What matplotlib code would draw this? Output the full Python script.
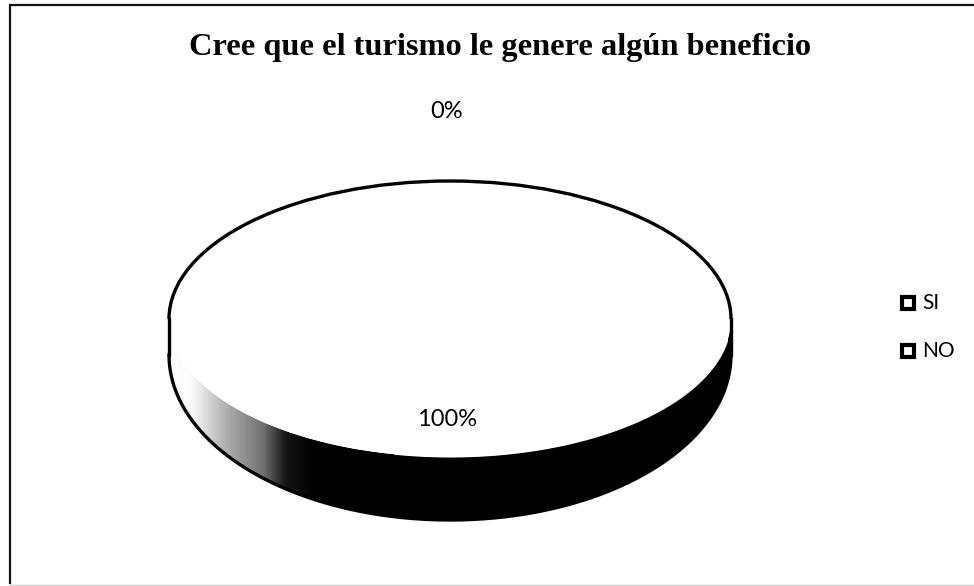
import numpy as np
import matplotlib
matplotlib.use('Agg')
import matplotlib.pyplot as plt
from matplotlib.patches import Arc, Rectangle, Polygon
from matplotlib.colors import LinearSegmentedColormap

title = 'Cree que el turismo le genere algún beneficio'
categorias = ['SI', 'NO']
valores = [100, 0]

W, H = 974, 586
fig = plt.figure(figsize=(W / 100, H / 100), dpi=100, facecolor='white')

# capa de fondo en pixeles, para marco y textos
bg = fig.add_axes([0, 0, 1, 1])
bg.set_xlim(0, W)
bg.set_ylim(H, 0)
bg.axis('off')
bg.plot([10, 10, 974], [583, 5, 5], color='#111111', lw=1.6, solid_joinstyle='miter')
bg.plot([10, 974], [585, 585], color='#d0d0d0', lw=1.0)

bg.text(500.5, 55, title, family='Liberation Serif', weight='bold', fontsize=23.3,
        ha='center', va='baseline', color='black')
bg.text(447, 112, f'{valores[1]}%', family='Lato', fontsize=17, ha='center', va='center')

# pastel aplanado, el eje incluye el lateral
cx, cy, a, b = 450, 319, 281, 138
base_cy, base_b = 355, 165
d0 = (base_cy - cy) / b
bb = base_b / b
yfondo = -d0 - bb
alto = (1 - yfondo) * b
ax = fig.add_axes([(cx - a) / W, 1 - (cy - b + alto) / H, 2 * a / W, alto / H])
ax.pie(valores, colors=['white', 'black'], startangle=90, radius=1,
       wedgeprops={'linewidth': 0, 'zorder': 3})
ax.set_aspect('auto')

# lateral
t = np.linspace(np.pi, 2 * np.pi, 300)
xs = np.cos(t)
arriba = np.sin(t)
abajo = bb * np.sin(t) - d0
verts = np.r_[[[-1, 0]], np.c_[xs, abajo], [[1, 0]], np.c_[xs[::-1], arriba[::-1]]]
rim = Polygon(verts, closed=True, facecolor='none', edgecolor='none')
ax.add_patch(rim)
cmap = LinearSegmentedColormap.from_list('lat', [(0, 'white'), (0.1, '#fafafa'), (0.25, '#b0b0b0'),
                                                 (0.42, '#707070'), (0.52, '#141414'), (0.65, 'black'), (1, 'black')])
grad = np.linspace(0, 1, 300).reshape(1, -1)
im = ax.imshow(grad, extent=(-1, -0.2, yfondo, 0.2), cmap=cmap, aspect='auto', zorder=1)
im.set_clip_path(rim)
mask = xs >= -0.3
ax.fill_between(xs[mask], abajo[mask], arriba[mask], color='black', lw=0, zorder=2)
ax.fill_between([0.99, 1], [-d0, -d0], [0, 0], color='black', lw=0, zorder=1)
ax.set_xlim(-1, 1)
ax.set_ylim(yfondo, 1)

# contornos
ax.plot(xs, abajo, color='black', lw=2.4, zorder=4, clip_on=False)
ax.plot([-1, -1], [0, -d0], color='black', lw=2.4, zorder=4, clip_on=False)
ax.plot([1, 1], [0, -d0], color='black', lw=2.4, zorder=4, clip_on=False)
arc = Arc((0, 0), 2, 2, theta1=0, theta2=180, color='black', lw=2.4, zorder=4, clip_on=False)
ax.add_patch(arc)
ax.axis('off')

bg.set_zorder(5)
bg.patch.set_alpha(0)
bg.text(447.5, 419, f'{valores[0]}%', family='Lato', fontsize=17, ha='center', va='center')

# leyenda
for y, cat in zip([303, 351], categorias):
    bg.add_patch(Rectangle((902, y - 6), 12, 12, facecolor='white', edgecolor='black', lw=3))
    bg.text(922, y, cat, family='Lato', fontsize=15, ha='left', va='center')

fig.savefig('out.png', dpi=100)
